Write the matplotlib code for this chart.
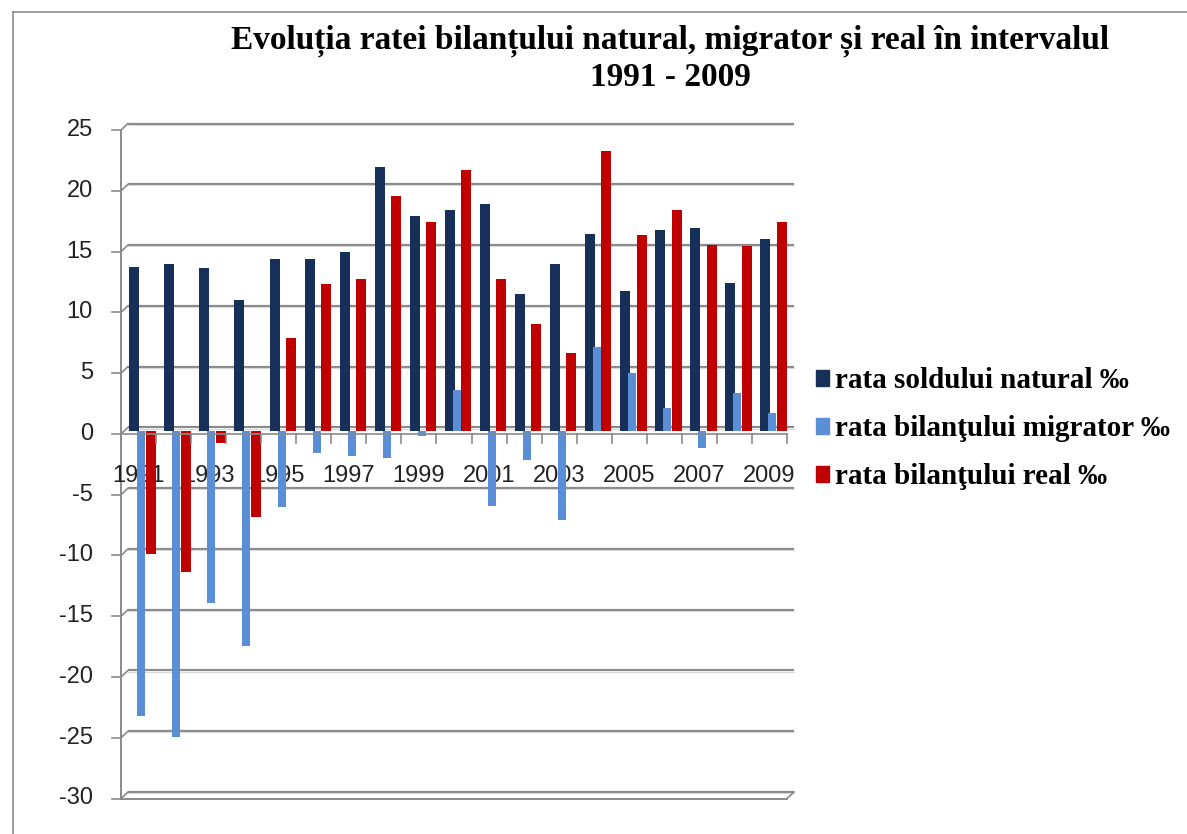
import matplotlib
matplotlib.use("Agg")
import matplotlib.pyplot as plt
import numpy as np
from matplotlib.patches import Patch

years = [str(y) for y in range(1991, 2010)]
natural = [13.5, 13.7, 13.4, 10.8, 14.1, 14.1, 14.7, 21.7, 17.7, 18.2,
           18.7, 11.3, 13.7, 16.2, 11.5, 16.5, 16.7, 12.2, 15.8]
migrator = [-23.5, -25.2, -14.2, -17.7, -6.3, -1.85, -2.05, -2.2, -0.4, 3.4,
            -6.15, -2.4, -7.3, 6.9, 4.8, 1.9, -1.4, 3.1, 1.5]
real = [-10.1, -11.6, -1.0, -7.1, 7.65, 12.1, 12.5, 19.3, 17.2, 21.5,
        12.5, 8.8, 6.4, 23.0, 16.1, 18.2, 15.3, 15.2, 17.2]
series_names = ["rata soldului natural ‰", "rata bilanţului migrator ‰",
                "rata bilanţului real ‰"]
yticks = [25, 20, 15, 10, 5, 0, -5, -10, -15, -20, -25, -30]
title = "Evoluția ratei bilanțului natural, migrator și real în intervalul\n1991 - 2009"

C_NAT = "#16305A"
C_MIG = "#5A8ED6"
C_REAL = "#C00000"
GRID = "#8A8A8A"

W, H = 1187, 834
fig = plt.figure(figsize=(W / 100, H / 100), dpi=100)
fig.patch.set_facecolor("white")

# axes = mid-depth plane of the pseudo-3D chart
ax = fig.add_axes([124.5 / W, (H - 795.5) / H, 666 / W, 668.5 / H])
ax.set_xlim(-0.5, 18.5)
ax.set_ylim(-30, 25)
ax.axis("off")

pxx = 666 / 19.0      # pixels per category unit
pxy = 668.5 / 55.0    # pixels per value unit
fdx, fdy = -3.5 / pxx, -3.0 / pxy    # front plane offset
bdx, bdy = 3.5 / pxx, 3.5 / pxy      # back wall offset

x = np.arange(len(years))

# back-wall gridlines
for v in yticks:
    ax.plot([-0.5 + bdx, 18.5 + bdx], [v + bdy, v + bdy], color=GRID, lw=1.6,
            zorder=1, clip_on=False, solid_capstyle="butt")
    ax.plot([-0.5 + bdx, 18.5 + bdx], [v + bdy - 1.2 / pxy] * 2, color="#D8D8D8",
            lw=0.8, zorder=1, clip_on=False)
    # connector from front axis to back wall
    ax.plot([-0.5 + fdx, -0.5 + bdx], [v + fdy, v + bdy], color=GRID, lw=1.2,
            zorder=1, clip_on=False)

# front floor edge
ax.plot([-0.5 + fdx, 18.5 + fdx], [-30 + fdy, -30 + fdy], color=GRID, lw=1.4,
        zorder=1, clip_on=False)
ax.plot([18.5 + fdx, 18.5 + bdx], [-30 + fdy, -30 + bdy], color=GRID, lw=1.2,
        zorder=1, clip_on=False)

# front value axis with ticks and labels
ax.plot([-0.5 + fdx, -0.5 + fdx], [-30 + fdy, 25 + fdy], color=GRID, lw=1.4,
        zorder=2, clip_on=False)
tl = 9 / pxx
for v in yticks:
    ax.plot([-0.5 + fdx - tl, -0.5 + fdx], [v + fdy, v + fdy], color=GRID, lw=1.2,
            zorder=2, clip_on=False)
    ax.text(-0.5 + fdx - 28 / pxx, v + fdy, str(v), ha="right", va="center",
            fontsize=17, family="Liberation Sans", color="#222222")

# bars
wn, wm, wr = 10 / pxx, 8 / pxx, 10 / pxx
b1 = ax.bar(x - 0.22, natural, width=wn, color=C_NAT, zorder=3, label=series_names[0])
b2 = ax.bar(x - 0.02, migrator, width=wm, color=C_MIG, zorder=3.1, label=series_names[1])
b3 = ax.bar(x + 0.25, real, width=wr, color=C_REAL, zorder=3.2, label=series_names[2])

# front category axis at zero
ax.plot([-0.5 + fdx, 18.5 + fdx], [fdy, fdy], color=GRID, lw=1.2, zorder=3.5,
        clip_on=False)
for k in range(len(years) + 1):
    ax.plot([k - 0.5 + fdx] * 2, [fdy, fdy - 9 / pxy], color=GRID, lw=1.2,
            zorder=3.5, clip_on=False)
for i, yr in enumerate(years):
    if i % 2 == 0:
        ax.text(x[i] + fdx, -45 / pxy, yr, ha="center", va="center", fontsize=17,
                family="Liberation Sans", color="#222222", zorder=2.5)

# title
fig.text(670 / W, 1 - 59 / H, title, ha="center", va="center", fontsize=24,
         family="Liberation Serif", fontweight="bold", linespacing=1.2)

# legend
handles = [Patch(color=C_NAT), Patch(color=C_MIG), Patch(color=C_REAL)]
fig.legend(handles, series_names, loc="center left",
           bbox_to_anchor=(816 / W, 1 - 429 / H), frameon=False,
           prop={"family": "Liberation Serif", "weight": "bold", "size": 21},
           handlelength=0.45, handleheight=0.45, handletextpad=0.2,
           labelspacing=0.72, borderaxespad=0, borderpad=0)

# chart-area frame (top and left edges)
fig.add_artist(plt.Line2D([13 / W, 1], [1 - 12 / H, 1 - 12 / H],
                          transform=fig.transFigure, color="#8C8C8C", lw=1.2))
fig.add_artist(plt.Line2D([13 / W, 13 / W], [0, 1 - 12 / H],
                          transform=fig.transFigure, color="#8C8C8C", lw=1.2))

fig.savefig("out.png", dpi=100, facecolor="white")
